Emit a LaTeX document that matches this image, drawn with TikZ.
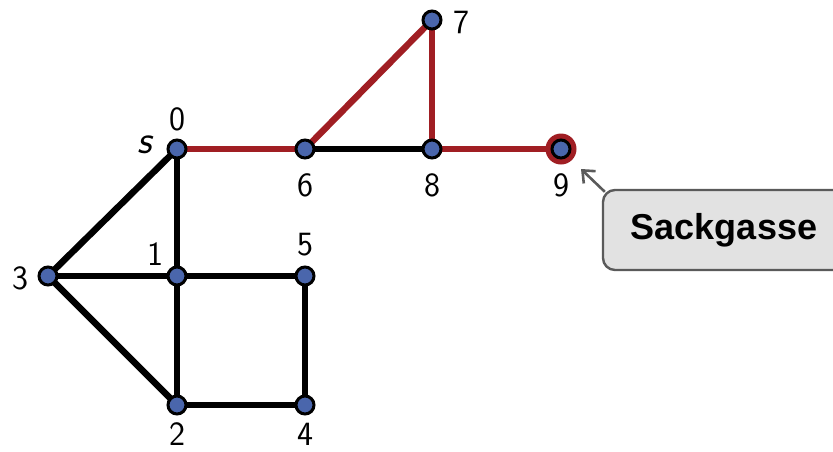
\documentclass[tikz,border=0pt]{standalone}
\usepackage{fontspec}
\newfontfamily\calloutfont{Liberation Sans}
\usetikzlibrary{arrows.meta}
\definecolor{vblue}{HTML}{4A66AC}
\definecolor{pred}{HTML}{A01E23}
\definecolor{cgray}{HTML}{E2E2E2}
\definecolor{cline}{HTML}{5A5A5A}
\tikzset{
  vert/.style={circle,fill=vblue,draw=black,line width=3pt,minimum size=18pt,inner sep=0pt},
  edge/.style={line width=6.5pt,draw=black},
  pathedge/.style={line width=6.5pt,draw=pred},
  lbl/.style={font=\fontsize{34}{40}\selectfont\sffamily,inner sep=0pt},
  callout/.style={draw=cline,fill=cgray,line width=2.4pt,rounded corners=12pt,minimum width=242pt,minimum height=80pt,font=\fontsize{36}{42}\selectfont\calloutfont\bfseries}
}
\begin{document}
\begin{tikzpicture}[x=1pt,y=-1pt]
\useasboundingbox (0,0) rectangle (833,451);
% vertex positions
\coordinate (p0) at (177,149);
\coordinate (p1) at (177,276);
\coordinate (p2) at (177,405);
\coordinate (p3) at (48,276);
\coordinate (p4) at (305,405);
\coordinate (p5) at (305,276);
\coordinate (p6) at (305,149);
\coordinate (p7) at (432,20);
\coordinate (p8) at (432,149);
\coordinate (p9) at (561,149);
% edges
\draw[edge] (p0) -- (p3);
\draw[edge] (p0) -- (p1);
\draw[edge] (p3) -- (p1);
\draw[edge] (p3) -- (p2);
\draw[edge] (p1) -- (p5);
\draw[edge] (p1) -- (p2);
\draw[edge] (p2) -- (p4);
\draw[edge] (p5) -- (p4);
\draw[edge] (p6) -- (p8);
\draw[pathedge] (p0) -- (p6);
\draw[pathedge] (p6) -- (p7);
\draw[pathedge] (p7) -- (p8);
\draw[pathedge] (p8) -- (p9);
% dead-end ring
\fill[pred] (p9) circle (15.5pt);
% vertices
\foreach \i in {0,...,9} { \node[vert] (v\i) at (p\i) {}; }
% labels
\node[lbl] (l0) at (177,119) {0};
\node[lbl,font=\fontsize{40}{46}\selectfont\sffamily] (ls) at (145,145) {\itshape s};
\node[lbl] (l6) at (305,185) {6};
\node[lbl] (l8) at (432,185) {8};
\node[lbl] (l9) at (561,185) {9};
\node[lbl] (l7) at (461,22) {7};
\node[lbl] (l5) at (305,245) {5};
\node[lbl] (l1) at (155,254) {1};
\node[lbl] (l3) at (20,278) {3};
\node[lbl] (l2) at (177,434) {2};
\node[lbl] (l4) at (305,434) {4};
% callout
\node[callout] (cb) at (724,230) {Sackgasse};
\coordinate (tip) at (581,169);
\draw[cline,line width=2.6pt,-{Straight Barb[length=10pt,width=17pt,line width=2.6pt]}] ([xshift=3pt,yshift=-3pt]cb.north west) -- (tip);
\end{tikzpicture}
\end{document}
